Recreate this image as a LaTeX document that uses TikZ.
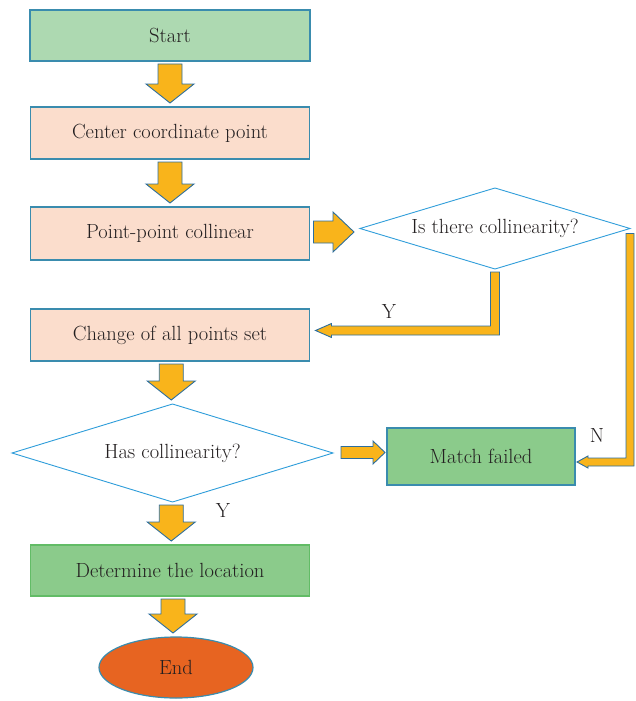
\documentclass[tikz,border=0pt]{standalone}
\usepackage{tikz}
\usetikzlibrary{calc,shapes.geometric}

\definecolor{startgreen}{HTML}{ADD9B1}
\definecolor{peach}{HTML}{FBDDCC}
\definecolor{midgreen}{HTML}{8BCB8B}
\definecolor{endorange}{HTML}{E76421}
\definecolor{arrowyellow}{HTML}{F9B41B}
\definecolor{arrowblue}{HTML}{2C6E9E}
\definecolor{boxblue}{HTML}{3A8CAE}
\definecolor{diablue}{HTML}{2E9DDA}
\definecolor{locgreen}{HTML}{62BC66}
\definecolor{inkgray}{HTML}{231F20}

\tikzset{
  txt/.style={text=inkgray, font=\fontsize{20.5}{23}\selectfont},
  box/.style={txt, draw=boxblue, line width=1.2pt, rectangle, outer sep=0pt,
    minimum width=279pt, minimum height=52pt},
  decision/.style={txt, draw=diablue, line width=0.9pt, fill=white, diamond,
    aspect=3.3, inner sep=0pt, outer sep=0pt},
  fatarrow/.style={fill=arrowyellow, draw=arrowblue, line width=0.9pt, line join=miter},
}

\begin{document}
\begin{tikzpicture}[x=1pt,y=-1pt]
\useasboundingbox (0,0) rectangle (636,701);

\node[box, fill=startgreen, minimum width=280pt, minimum height=51pt] (start) at (170,35.5) {Start};

\node[box, fill=peach] (center) at (170,133) {Center coordinate point};

\node[box, fill=peach, minimum height=53pt] (collin) at (170,233.5) {Point-point collinear};

\node[decision, minimum width=270pt, minimum height=81pt] (isthere) at (495,228.5) {Is there collinearity?};

\node[box, fill=peach] (change) at (170,335) {Change of all points set};

\node[decision, minimum width=321pt, minimum height=98pt] (has) at (172.5,453) {Has collinearity?};

\node[box, fill=midgreen, minimum width=188pt, minimum height=57pt] (failed) at (481,456.5) {Match failed};

\node[box, fill=midgreen, draw=locgreen, minimum height=51pt] (locate) at (170,570.5) {Determine the location};

\node[txt, ellipse, fill=endorange, draw=boxblue, line width=1.2pt, outer sep=0pt,
  minimum width=154pt, minimum height=61pt, inner sep=0pt] (end) at (176,667.5) {End};

\node[txt] (y1) at (389,311) {Y};
\node[txt] (n1) at (597,435) {N};
\node[txt] (y2) at (223,510) {Y};

% downward block arrows
\foreach \a/\b in {start/center, center/collin, change/has, has/locate, locate/end}{
  \coordinate (m) at ($(\a.south)!0.5!(\b.north)$);
  \coordinate (t) at ($(m |- \a.south)+(0,3)$);
  \coordinate (p) at ($(m |- \b.north)+(0,-4)$);
  \draw[fatarrow] ($(t)+(-12,0)$) -- ($(t)+(12,0)$) -- ($(p)+(12,-19)$) -- ($(p)+(24,-19)$)
    -- (p) -- ($(p)+(-24,-19)$) -- ($(p)+(-12,-19)$) -- cycle;
}

% sideways block arrows
\coordinate (p) at ($(collin.east -| isthere.west)+(-6,-1.5)$);
\draw[fatarrow] ($(collin.east)+(4,-12.5)$) -- ($(p)+(-21,-11)$) -- ($(p)+(-21,-20)$) -- (p)
  -- ($(p)+(-21,20)$) -- ($(p)+(-21,11)$) -- ($(collin.east)+(4,9.5)$) -- cycle;

\coordinate (p) at ($(has.east -| failed.west)+(-2,-0.5)$);
\draw[fatarrow] ($(has.east)+(8,-6.5)$) -- ($(p)+(-12,-6)$) -- ($(p)+(-12,-11.5)$) -- (p)
  -- ($(p)+(-12,11.5)$) -- ($(p)+(-12,6)$) -- ($(has.east)+(8,5.5)$) -- cycle;

% Y branch
\coordinate (t) at ($(change.east)+(6,-4.5)$);
\coordinate (c) at (isthere.south |- t);
\draw[fatarrow] ($(isthere.south)+(-4.5,3)$) -- ($(isthere.south)+(4.5,3)$) -- ($(c)+(4.5,4.5)$)
  -- ($(t)+(16,4.5)$) -- ($(t)+(16,7)$) -- (t) -- ($(t)+(16,-7)$) -- ($(t)+(16,-4.5)$)
  -- ($(c)+(-4.5,-4.5)$) -- cycle;

% N branch
\coordinate (t) at ($(failed.east)+(2,5.5)$);
\coordinate (c) at (isthere.east |- t);
\draw[fatarrow] ($(isthere.east)+(-4,5)$) -- ($(isthere.east)+(4,5)$) -- ($(c)+(4,4)$)
  -- ($(t)+(11,4)$) -- ($(t)+(11,6)$) -- (t) -- ($(t)+(11,-6)$) -- ($(t)+(11,-4)$)
  -- ($(c)+(-4,-4)$) -- cycle;

\end{tikzpicture}
\end{document}
